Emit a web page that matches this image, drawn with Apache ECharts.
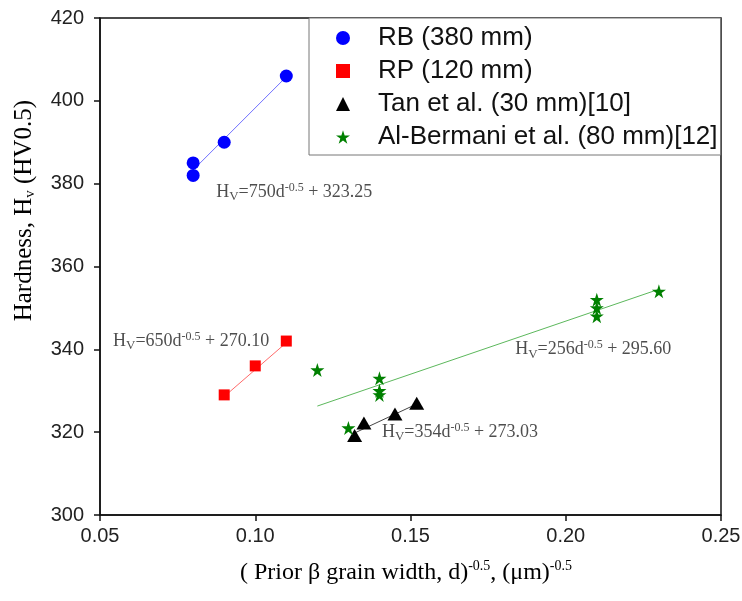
<!DOCTYPE html>
<html>
<head>
<meta charset="utf-8">
<script src="https://cdn.jsdelivr.net/npm/echarts@6/dist/echarts.min.js"></script>
<style>
  html, body { margin: 0; padding: 0; background: #fff; }
  #main { width: 742px; height: 601px; }
</style>
</head>
<body>
<div id="main"></div>
<script>
// measured points
const rbData = [ [ 0.08, 382 ], [ 0.08, 385 ], [ 0.09, 390 ], [ 0.11, 406 ] ];
const rpData = [ [ 0.09, 329 ], [ 0.10, 336 ], [ 0.11, 342 ] ];
const tanData = [ [ 0.132, 319.2 ], [ 0.135, 322.2 ], [ 0.145, 324.4 ], [ 0.152, 327 ] ];
const abData = [ [ 0.12, 335 ], [ 0.13, 321 ], [ 0.14, 333 ], [ 0.14, 330 ], [ 0.14, 329 ],
  [ 0.21, 352 ], [ 0.21, 350 ], [ 0.21, 348 ], [ 0.23, 354 ] ];

// fit line end points
const rbFit = [ [ 0.08, 383.3 ], [ 0.11, 405.8 ] ];
const rpFit = [ [ 0.09, 328.6 ], [ 0.11, 341.6 ] ];
const tanFit = [ [ 0.132, 319.8 ], [ 0.152, 326.8 ] ];
const abFit = [ [ 0.12, 326.3 ], [ 0.23, 354.5 ] ];

const seriesNames = [ 'RB (380 mm)', 'RP (120 mm)', 'Tan et al. (30 mm)[10]', 'Al-Bermani et al. (80 mm)[12]' ];

// equation labels: anchor point + slope + intercept
const eqAnchors = [ [ 0.0874, 378 ], [ 0.0542, 342 ], [ 0.1408, 320 ], [ 0.1837, 339.9 ] ];
const eqSlopes = [ '750', '650', '354', '256' ];
const eqIntercepts = [ '323.25', '270.10', '273.03', '295.60' ];

const xTicks = { min: 0.05, max: 0.25, interval: 0.05 };
const yTicks = { min: 300, max: 420, interval: 20 };

( function ()
{
  let myChart = echarts.init( document.getElementById( 'main' ) );

  const serif = "'Liberation Serif', 'Times New Roman', serif";
  const sans = "'Liberation Sans', Arial, sans-serif";

  const eqRich = {
    t: { fontFamily: serif, fontSize: 18, color: '#222' },
    sub: { fontFamily: serif, fontSize: 13, color: '#222', padding: [ 9, 0, 0, 0 ] },
    sup: { fontFamily: serif, fontSize: 12, color: '#222', padding: [ 0, 0, 9, 0 ] }
  };

  const eqData = eqAnchors.map( function ( p, i )
  {
    return {
      value: p,
      label: {
        formatter: '{t|H}{sub|V}{t|=' + eqSlopes[ i ] + 'd}{sup|-0.5}{t| + ' + eqIntercepts[ i ] + '}'
      }
    };
  } );

  function fitLine ( data, color )
  {
    return {
      type: 'line',
      data: data,
      symbol: 'none',
      silent: true,
      lineStyle: { color: color, width: 1 },
      z: 1
    };
  }

  let option = {
    backgroundColor: '#fff',
    animation: false,
    grid: {
      left: 100, right: 21, top: 18, bottom: 86,
      containLabel: false,
      outerBoundsMode: 'none',
      show: true,
      borderColor: '#111',
      borderWidth: 1.5,
      backgroundColor: 'transparent'
    },
    legend: {
      orient: 'vertical',
      left: 309,
      top: 18,
      data: seriesNames,
      backgroundColor: '#fff',
      borderColor: '#777',
      borderWidth: 1,
      padding: [ 7, 3, 5, 27 ],
      itemGap: 7,
      itemWidth: 14,
      itemHeight: 14,
      textStyle: { fontFamily: sans, fontSize: 26, color: '#111', lineHeight: 25, padding: [ 0, 0, 0, 23 ] }
    },
    xAxis: {
      type: 'value',
      min: xTicks.min,
      max: xTicks.max,
      interval: xTicks.interval,
      axisLine: { onZero: false, lineStyle: { color: '#111', width: 1.5 } },
      axisTick: { show: true, length: 6, lineStyle: { color: '#111', width: 1.5 } },
      axisLabel: {
        margin: 11,
        fontFamily: sans, fontSize: 20, color: '#222',
        formatter: function ( v ) { return v.toFixed( 2 ); }
      },
      splitLine: { show: false }
    },
    yAxis: {
      type: 'value',
      min: yTicks.min,
      max: yTicks.max,
      interval: yTicks.interval,
      axisLine: { show: true, onZero: false, lineStyle: { color: '#111', width: 1.5 } },
      axisTick: { show: true, length: 6, lineStyle: { color: '#111', width: 1.5 } },
      axisLabel: { margin: 16, fontFamily: sans, fontSize: 20, color: '#222' },
      splitLine: { show: false }
    },
    graphic: [
      {
        type: 'text',
        left: 12,
        top: 100,
        rotation: Math.PI / 2,
        style: {
          text: '{t|Hardness, H}{sub|v}{t| (HV0.5)}',
          rich: {
            t: { fontFamily: serif, fontSize: 25, color: '#222' },
            sub: { fontFamily: serif, fontSize: 15, color: '#222', padding: [ 12, 0, 0, 0 ] }
          }
        }
      },
      {
        type: 'text',
        left: 240,
        top: 559,
        style: {
          text: '{t|( Prior \u03b2 grain width, d)}{sup|-0.5}{t|, (\u03bcm)}{sup|-0.5}',
          rich: {
            t: { fontFamily: serif, fontSize: 24, color: '#222' },
            sup: { fontFamily: serif, fontSize: 14, color: '#222', padding: [ 0, 0, 13, 0 ] }
          }
        }
      }
    ],
    series: [
      fitLine( rbFit, '#7070ff' ),
      fitLine( rpFit, '#ff6a6a' ),
      fitLine( tanFit, '#444' ),
      fitLine( abFit, '#5cb85c' ),
      {
        name: seriesNames[ 0 ], type: 'scatter', data: rbData,
        symbol: 'circle', symbolSize: 13, itemStyle: { color: '#0000ff', opacity: 1 }, z: 3
      },
      {
        name: seriesNames[ 1 ], type: 'scatter', data: rpData,
        symbol: 'rect', symbolSize: 11, itemStyle: { color: '#ff0000', opacity: 1 }, z: 3
      },
      {
        name: seriesNames[ 2 ], type: 'scatter', data: tanData,
        symbol: 'triangle', symbolSize: [ 15, 13 ], itemStyle: { color: '#000', opacity: 1 }, z: 3
      },
      {
        name: seriesNames[ 3 ], type: 'scatter', data: abData,
        symbol: 'path://M50,0 L61.8,36.2 L100,36.2 L69.1,58.8 L80.9,95.1 L50,72.7 L19.1,95.1 L30.9,58.8 L0,36.2 L38.2,36.2 Z',
        symbolSize: 14, itemStyle: { color: '#008000', opacity: 1 }, z: 3
      },
      {
        type: 'scatter',
        data: eqData,
        symbolSize: 0,
        silent: true,
        label: { show: true, position: 'right', distance: 0, rich: eqRich },
        z: 4
      }
    ]
  };
  myChart.setOption( option );
  window.addEventListener( 'resize', function ()
  {
    myChart.resize();
  } );
} )();
</script>
</body>
</html>
